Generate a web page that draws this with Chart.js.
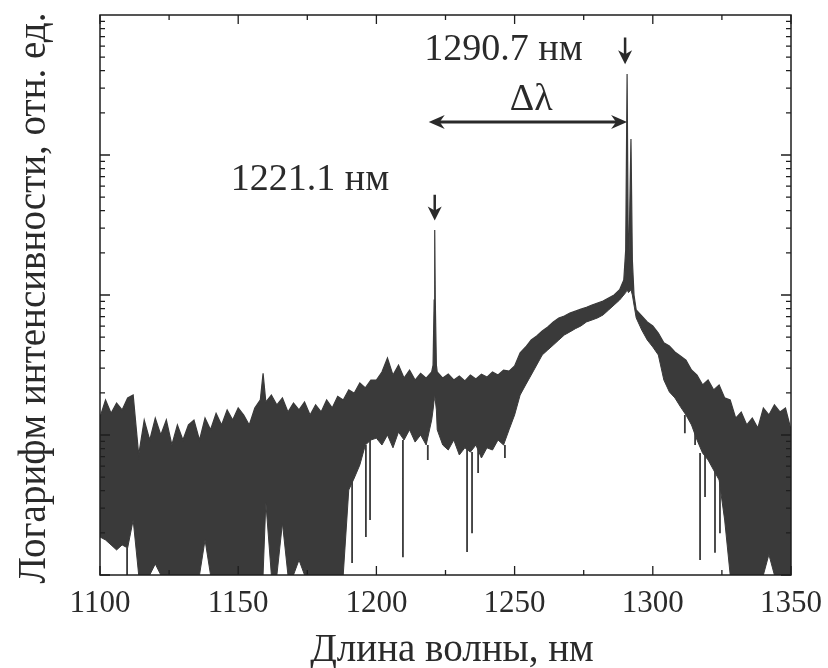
<!DOCTYPE html>
<html>
<head>
<meta charset="utf-8">
<script src="https://cdn.jsdelivr.net/npm/chart.js@4"></script>
<style>
  html, body { margin: 0; padding: 0; background: #fff; }
</style>
</head>
<body>
<canvas id="spectrum" width="828" height="668"></canvas>
<script>
// wavelength grid, nm (extra points around the two laser lines)
var wavelength = [
  1100, 1102, 1104, 1106, 1108, 1110, 1112, 1114, 1116, 1118,
  1120, 1122, 1124, 1126, 1128, 1130, 1132, 1134, 1136, 1138,
  1140, 1142, 1144, 1146, 1148, 1150, 1152, 1154, 1156, 1158,
  1159, 1160, 1162, 1164, 1166, 1168, 1170, 1172, 1174, 1176,
  1178, 1180, 1182, 1184, 1186, 1188, 1190, 1192, 1194, 1196,
  1198, 1200, 1202, 1204, 1206, 1208, 1210, 1212, 1214, 1216,
  1218, 1220, 1220.5, 1220.9, 1221.1, 1221.3, 1221.7, 1222, 1224, 1226,
  1228, 1230, 1232, 1234, 1236, 1238, 1240, 1242, 1244, 1246,
  1248, 1250, 1252, 1254, 1256, 1258, 1260, 1262, 1264, 1266,
  1268, 1270, 1272, 1274, 1276, 1278, 1280, 1282, 1284, 1286,
  1288, 1289.5, 1290.2, 1290.7, 1291.2, 1292.1, 1292.6, 1293.2, 1294, 1296,
  1298, 1300, 1302, 1304, 1306, 1308, 1310, 1312, 1314, 1316,
  1318, 1320, 1322, 1324, 1326, 1328, 1330, 1332, 1334, 1336,
  1338, 1340, 1342, 1344, 1346, 1348, 1350
];

// top of the noisy band (rel. units)
var upper = [
  13.4, 17.8, 14.3, 16.9, 15.1, 18.4, 19.3, 7.2, 12.8, 9.2,
  13.2, 10, 12.8, 8.5, 11.8, 9.2, 11.8, 12.8, 9.2, 13.2,
  10.9, 14.3, 11.8, 15.1, 12.8, 15.6, 13.9, 11.8, 15.6, 17.8,
  27.6, 17.2, 19.3, 16.4, 18.4, 14.6, 16.9, 15.1, 17.2, 13.9,
  16.4, 14.6, 17.8, 15.6, 18.9, 17.8, 21.0, 19.9, 23.5, 21.7,
  24.7, 24.7, 28.2, 35.5, 26.8, 31.6, 25.5, 29.1, 24.7, 27.6,
  25.5, 28.2, 31.6, 92, 291, 92, 31.6, 28.2, 25.5, 27.2,
  24.7, 26.4, 24.3, 26.8, 25.1, 27.2, 25.9, 28.2, 26.8, 29.1,
  28.6, 31.1, 38.6, 42.5, 47.7, 51.0, 55.3, 59.1, 64.2, 68.6,
  70.8, 74.3, 76.7, 79.2, 81.8, 84.8, 87.6, 90.4, 95.2, 100,
  109, 128, 210, 3790, 118, 1300, 178, 100, 78.1, 70.8,
  64.2, 60.1, 53.5, 45.6, 43.2, 39.2, 36.7, 34.3, 29.1, 26.8,
  22.8, 24.7, 21.0, 22.8, 18.4, 17.8, 13.2, 14.6, 11.8, 13.2,
  11.2, 15.6, 13.9, 16.4, 14.6, 15.6, 10.9
];

// bottom of the dense band (rel. units), 1 = floor of the plot
var lower = [
  1.87, 1.78, 1.64, 1.51, 1.64, 1.56, 2.47, 1, 1, 1,
  1.2, 1, 1, 1, 1, 1, 1, 1, 1, 1.78,
  1, 1, 1, 1, 1, 1, 1, 1, 1, 1,
  1, 3.3, 1, 1, 2.35, 1, 1, 1.28, 1, 1,
  1, 1, 1, 1, 1, 1, 4.05, 4.93, 6.11, 8.48,
  9.21, 9.5, 8.48, 10, 8.1, 10.5, 9.21, 10.9, 8.9, 10,
  8.48, 12.8, 15.1, 17.8, 19.3, 17.8, 15.1, 10.9, 8.48, 7.81,
  9.21, 7.2, 8.1, 7.55, 8.48, 6.85, 8.1, 7.81, 9.21, 8.48,
  10.9, 13.9, 19.3, 22.8, 26.8, 31.6, 37.3, 40.5, 43.9, 47.7,
  51.8, 54.5, 57.5, 60.1, 64.2, 66.3, 68.6, 72.0, 78.1, 84.8,
  92.1, 100, 104, 109, 104, 109, 100, 84.8, 68.6, 56.2,
  47.7, 42.5, 37.3, 24.7, 20.3, 18.4, 15.9, 13.9, 11.8, 9.21,
  7.43, 6.63, 5.62, 4.77, 2.47, 1, 1, 1, 1, 1,
  1, 1, 1.4, 1, 1, 1, 1
];

// single deep dips below the band
var dipX      = [1109.8, 1191.2, 1196.2, 1197.7, 1209.6, 1218.6, 1232.8, 1234.6, 1236.8, 1246.5, 1311.6, 1315.3, 1317.1, 1318.9, 1322.5, 1324.3];
var dipTop    = [1.56, 4.9, 8.5, 9.2, 9.2, 8.5, 8.1, 7.55, 8.5, 8.5, 13.9, 11.8, 7.43, 7.2, 5.62, 4.77];
var dipBottom = [1.0, 1.22, 1.87, 2.47, 1.34, 6.63, 1.46, 1.99, 5.35, 6.85, 10.3, 8.5, 1.28, 3.6, 1.44, 1.99];

var xTickStep = 50;
var peakShort = 1221.1;
var peakLong = 1290.7;

var ink = '#3a3a3a';
var serif = '"Liberation Serif", "DejaVu Serif", "Times New Roman", serif';

function pts(xs, ys) {
  return xs.map(function (x, i) { return { x: x, y: ys[i] }; });
}

var dipPts = [];
dipX.forEach(function (x, i) {
  dipPts.push({ x: x, y: dipTop[i] });
  dipPts.push({ x: x, y: dipBottom[i] });
  dipPts.push({ x: x, y: null });
});

function arrowHead(ctx, x, y, dir) {
  ctx.beginPath();
  if (dir === 'down') {
    ctx.moveTo(x, y); ctx.lineTo(x - 7, y - 14); ctx.lineTo(x, y - 10); ctx.lineTo(x + 7, y - 14);
  } else if (dir === 'left') {
    ctx.moveTo(x, y); ctx.lineTo(x + 16, y - 7); ctx.lineTo(x + 11, y); ctx.lineTo(x + 16, y + 7);
  } else {
    ctx.moveTo(x, y); ctx.lineTo(x - 16, y - 7); ctx.lineTo(x - 11, y); ctx.lineTo(x - 16, y + 7);
  }
  ctx.closePath();
  ctx.fill();
}

var frame = {
  id: 'frame',
  afterDraw: function (chart) {
    var ctx = chart.ctx, a = chart.chartArea;
    var xs = chart.scales.x, ys = chart.scales.y;
    ctx.save();
    ctx.strokeStyle = '#1e1e1e';
    ctx.lineWidth = 1.5;
    ctx.strokeRect(a.left, a.top, a.right - a.left, a.bottom - a.top);

    ctx.lineWidth = 1.3;
    ctx.beginPath();
    for (var v = xs.min; v <= xs.max; v += 25) {
      var px = xs.getPixelForValue(v);
      var len = (v % 50 === 0) ? 9 : 5;
      ctx.moveTo(px, a.bottom); ctx.lineTo(px, a.bottom - len);
      ctx.moveTo(px, a.top); ctx.lineTo(px, a.top + len);
    }
    for (var d = 1; d < ys.max; d *= 10) {
      for (var m = 1; m < 10; m++) {
        var py = ys.getPixelForValue(d * m);
        var l = (m === 1) ? 10 : 5;
        ctx.moveTo(a.left, py); ctx.lineTo(a.left + l, py);
        ctx.moveTo(a.right, py); ctx.lineTo(a.right - l, py);
      }
    }
    ctx.stroke();

    ctx.fillStyle = '#2a2a2a';
    ctx.strokeStyle = '#2a2a2a';

    // axis titles
    ctx.font = '39px ' + serif;
    ctx.textAlign = 'center';
    ctx.textBaseline = 'alphabetic';
    ctx.fillText('Длина волны, нм', 452, 661);
    ctx.save();
    ctx.translate(45, 298);
    ctx.rotate(-Math.PI / 2);
    ctx.fillText('Логарифм интенсивности, отн. ед.', 0, 0);
    ctx.restore();

    // annotations
    ctx.font = '38px ' + serif;
    ctx.fillText('1221.1 нм', xs.getPixelForValue(1176), ys.getPixelForValue(560));
    ctx.fillText('1290.7 нм', xs.getPixelForValue(1246), ys.getPixelForValue(4750));
    ctx.fillText('\u0394\u03bb', xs.getPixelForValue(1256), ys.getPixelForValue(2100));

    // down arrows above the lines
    var x1 = xs.getPixelForValue(peakShort);
    var x2 = xs.getPixelForValue(peakLong) - 2;
    ctx.lineWidth = 2.5;
    ctx.beginPath();
    ctx.moveTo(x1, ys.getPixelForValue(520)); ctx.lineTo(x1, ys.getPixelForValue(370));
    ctx.moveTo(x2, ys.getPixelForValue(6900)); ctx.lineTo(x2, ys.getPixelForValue(4900));
    ctx.stroke();
    arrowHead(ctx, x1, ys.getPixelForValue(340), 'down');
    arrowHead(ctx, x2, ys.getPixelForValue(4450), 'down');

    // double arrow between the lines
    var yA = ys.getPixelForValue(1720);
    var xa = xs.getPixelForValue(peakShort) - 6;
    var xb = xs.getPixelForValue(peakLong);
    ctx.lineWidth = 3;
    ctx.beginPath();
    ctx.moveTo(xa + 10, yA); ctx.lineTo(xb - 10, yA);
    ctx.stroke();
    arrowHead(ctx, xa, yA, 'left');
    arrowHead(ctx, xb, yA, 'right');
    ctx.restore();
  }
};

new Chart(document.getElementById('spectrum'), {
  type: 'line',
  data: {
    datasets: [{
      data: pts(wavelength, lower),
      borderColor: ink,
      borderWidth: 1,
      pointRadius: 0,
      fill: false
    }, {
      data: pts(wavelength, upper),
      borderColor: ink,
      backgroundColor: ink,
      borderWidth: 1.2,
      pointRadius: 0,
      fill: '-1'
    }, {
      data: dipPts,
      borderColor: ink,
      borderWidth: 1.8,
      pointRadius: 0,
      spanGaps: false,
      fill: false
    }]
  },
  options: {
    responsive: false,
    animation: false,
    layout: { padding: { top: 15, right: 37, left: 0, bottom: 0 } },
    plugins: {
      legend: { display: false },
      tooltip: { enabled: false }
    },
    scales: {
      x: {
        type: 'linear',
        min: 1100,
        max: 1350,
        grid: { display: false },
        border: { display: false },
        ticks: {
          stepSize: xTickStep,
          padding: 2,
          color: '#2a2a2a',
          font: { family: serif, size: 31 },
          callback: function (v) { return String(v); }
        },
        afterFit: function (s) { s.height = 93; }
      },
      y: {
        type: 'logarithmic',
        min: 1,
        max: 10000,
        grid: { display: false },
        border: { display: false },
        ticks: { display: false },
        afterFit: function (s) { s.width = 100; }
      }
    }
  },
  plugins: [frame]
});
</script>
</body>
</html>
